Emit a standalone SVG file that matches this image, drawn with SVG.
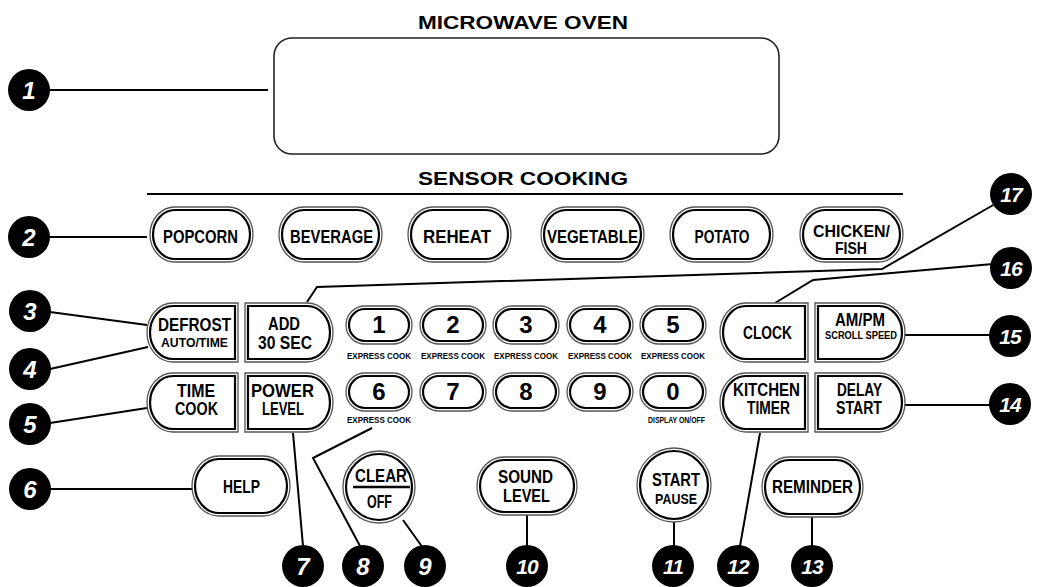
<svg xmlns="http://www.w3.org/2000/svg" width="1037" height="587" viewBox="0 0 1037 587">
<style>
.o{fill:#fff;stroke:#555;stroke-width:1.3}
.i{fill:none;stroke:#000;stroke-width:2.2}
.t{font-family:"Liberation Sans",Arial,sans-serif;font-weight:bold;fill:#000;text-anchor:middle;font-size:18px}
.s{font-size:13.5px}
.x{font-size:9.5px}
.d{font-size:24px}
.ln{stroke:#000;stroke-width:2;fill:none}
.cc{fill:#000}
.cn{font-family:"Liberation Sans",Arial,sans-serif;font-style:italic;font-weight:bold;fill:#fff;text-anchor:middle;font-size:24px}
.cn2{font-size:21px;letter-spacing:-1px}
.h{font-family:"Liberation Sans",Arial,sans-serif;font-weight:bold;fill:#000;text-anchor:middle;font-size:19px}
</style>
<rect width="1037" height="587" fill="#fff"/>
<text class="h" x="523" y="29" textLength="210" lengthAdjust="spacingAndGlyphs">MICROWAVE OVEN</text>
<g id="display"><rect x="274" y="38" width="505" height="116" rx="18" fill="#fff" stroke="#222" stroke-width="1.6"/></g>
<text class="h" x="523" y="185" textLength="210" lengthAdjust="spacingAndGlyphs">SENSOR COOKING</text>
<line x1="147" y1="194" x2="903" y2="194" stroke="#000" stroke-width="2"/>

<g id="connectors">
<line class="ln" x1="50" y1="90" x2="268" y2="90"/>
<line class="ln" x1="50" y1="237" x2="147" y2="237"/>
<line class="ln" x1="50" y1="312" x2="147" y2="325"/>
<line class="ln" x1="50" y1="369" x2="148" y2="347"/>
<line class="ln" x1="50" y1="423" x2="147" y2="408"/>
<line class="ln" x1="50" y1="489" x2="192" y2="489"/>
<line class="ln" x1="303" y1="546" x2="293" y2="433"/>
<polyline class="ln" points="360,546 313,458 372,428"/>
<line class="ln" x1="423" y1="548" x2="403" y2="520"/>
<line class="ln" x1="527" y1="515" x2="527" y2="546"/>
<line class="ln" x1="674" y1="522" x2="674" y2="546"/>
<line class="ln" x1="740" y1="546" x2="760" y2="433"/>
<line class="ln" x1="812" y1="517" x2="812" y2="546"/>
<line class="ln" x1="905" y1="405" x2="990" y2="405"/>
<line class="ln" x1="905" y1="335" x2="990" y2="335"/>
<polyline class="ln" points="775,303 813,280 993,264"/>
<polyline class="ln" points="307,302 317,287 882,269 995,204"/>
</g>

<g id="popcorn"><rect class="o" x="150" y="207" width="103" height="55" rx="25" ry="27.5"/><rect class="i" x="153" y="210" width="97" height="49" rx="22" ry="24.5"/><text class="t" x="200.5" y="243" textLength="75" lengthAdjust="spacingAndGlyphs">POPCORN</text></g>
<g id="beverage"><rect class="o" x="279" y="207" width="103" height="55" rx="25" ry="27.5"/><rect class="i" x="282" y="210" width="97" height="49" rx="22" ry="24.5"/><text class="t" x="331.5" y="243" textLength="83" lengthAdjust="spacingAndGlyphs">BEVERAGE</text></g>
<g id="reheat"><rect class="o" x="408" y="207" width="103" height="55" rx="25" ry="27.5"/><rect class="i" x="411" y="210" width="97" height="49" rx="22" ry="24.5"/><text class="t" x="457" y="243" textLength="68" lengthAdjust="spacingAndGlyphs">REHEAT</text></g>
<g id="vegetable"><rect class="o" x="541" y="207" width="103" height="55" rx="25" ry="27.5"/><rect class="i" x="544" y="210" width="97" height="49" rx="22" ry="24.5"/><text class="t" x="592.5" y="243" textLength="91" lengthAdjust="spacingAndGlyphs">VEGETABLE</text></g>
<g id="potato"><rect class="o" x="670" y="207" width="103" height="55" rx="25" ry="27.5"/><rect class="i" x="673" y="210" width="97" height="49" rx="22" ry="24.5"/><text class="t" x="722" y="243" textLength="55" lengthAdjust="spacingAndGlyphs">POTATO</text></g>
<g id="chicken"><rect class="o" x="800" y="207" width="103" height="55" rx="25" ry="27.5"/><rect class="i" x="803" y="210" width="97" height="49" rx="22" ry="24.5"/><text class="t" x="851.5" y="237" style="font-size:17px" textLength="77" lengthAdjust="spacingAndGlyphs">CHICKEN/</text><text class="t" x="851" y="254" style="font-size:17px" textLength="32" lengthAdjust="spacingAndGlyphs">FISH</text></g>

<g id="defrost"><path class="o" d="M238,303 H173 A26,29.5 0 0 0 173,362 H238 Z"/><path class="i" d="M235,306 H173 A23,26.5 0 0 0 173,359 H235 Z"/><text class="t" x="194.5" y="331" textLength="73" lengthAdjust="spacingAndGlyphs">DEFROST</text><text class="t s" x="194.5" y="347" textLength="67" lengthAdjust="spacingAndGlyphs">AUTO/TIME</text></g>
<g id="add30"><path class="o" d="M245,303 H307 A26,29.5 0 0 1 307,362 H245 Z"/><path class="i" d="M248,306 H307 A23,26.5 0 0 1 307,359 H248 Z"/><text class="t" x="284" y="330" textLength="32" lengthAdjust="spacingAndGlyphs">ADD</text><text class="t" x="285" y="349" textLength="54" lengthAdjust="spacingAndGlyphs">30 SEC</text></g>
<g id="timecook"><path class="o" d="M238,373 H173 A26,29.5 0 0 0 173,432 H238 Z"/><path class="i" d="M235,376 H173 A23,26.5 0 0 0 173,429 H235 Z"/><text class="t" x="196" y="397" textLength="38" lengthAdjust="spacingAndGlyphs">TIME</text><text class="t" x="196.5" y="415" textLength="43" lengthAdjust="spacingAndGlyphs">COOK</text></g>
<g id="powerlevel"><path class="o" d="M245,373 H307 A26,29.5 0 0 1 307,432 H245 Z"/><path class="i" d="M248,376 H307 A23,26.5 0 0 1 307,429 H248 Z"/><text class="t" x="282.5" y="397" textLength="63" lengthAdjust="spacingAndGlyphs">POWER</text><text class="t" x="283" y="415" textLength="42" lengthAdjust="spacingAndGlyphs">LEVEL</text></g>
<g id="clock"><path class="o" d="M808,303 H746 A26,29.5 0 0 0 746,362 H808 Z"/><path class="i" d="M805,306 H746 A23,26.5 0 0 0 746,359 H805 Z"/><text class="t" x="767.5" y="339" textLength="49" lengthAdjust="spacingAndGlyphs">CLOCK</text></g>
<g id="ampm"><path class="o" d="M815,303 H879 A26,29.5 0 0 1 879,362 H815 Z"/><path class="i" d="M818,306 H879 A23,26.5 0 0 1 879,359 H818 Z"/><text class="t" x="860" y="326" textLength="50" lengthAdjust="spacingAndGlyphs">AM/PM</text><text class="t" x="861" y="339" style="font-size:11px" textLength="72" lengthAdjust="spacingAndGlyphs">SCROLL SPEED</text></g>
<g id="kitchentimer"><path class="o" d="M808,373 H746 A26,29.5 0 0 0 746,432 H808 Z"/><path class="i" d="M805,376 H746 A23,26.5 0 0 0 746,429 H805 Z"/><text class="t" x="766.5" y="396" textLength="67" lengthAdjust="spacingAndGlyphs">KITCHEN</text><text class="t" x="768.5" y="414" textLength="43" lengthAdjust="spacingAndGlyphs">TIMER</text></g>
<g id="delaystart"><path class="o" d="M815,373 H879 A26,29.5 0 0 1 879,432 H815 Z"/><path class="i" d="M818,376 H879 A23,26.5 0 0 1 879,429 H818 Z"/><text class="t" x="859.5" y="396" textLength="45" lengthAdjust="spacingAndGlyphs">DELAY</text><text class="t" x="859" y="414" textLength="46" lengthAdjust="spacingAndGlyphs">START</text></g>

<g id="key1"><rect class="o" x="346" y="306" width="66" height="38" rx="19"/><rect class="i" x="349" y="309" width="60" height="32" rx="16"/><text class="t d" x="379" y="333">1</text><text class="t x" x="379" y="359" textLength="64" lengthAdjust="spacingAndGlyphs">EXPRESS COOK</text></g>
<g id="key2"><rect class="o" x="420" y="306" width="66" height="38" rx="19"/><rect class="i" x="423" y="309" width="60" height="32" rx="16"/><text class="t d" x="453" y="333">2</text><text class="t x" x="453" y="359" textLength="64" lengthAdjust="spacingAndGlyphs">EXPRESS COOK</text></g>
<g id="key3"><rect class="o" x="493" y="306" width="66" height="38" rx="19"/><rect class="i" x="496" y="309" width="60" height="32" rx="16"/><text class="t d" x="526" y="333">3</text><text class="t x" x="526" y="359" textLength="64" lengthAdjust="spacingAndGlyphs">EXPRESS COOK</text></g>
<g id="key4"><rect class="o" x="567" y="306" width="66" height="38" rx="19"/><rect class="i" x="570" y="309" width="60" height="32" rx="16"/><text class="t d" x="600" y="333">4</text><text class="t x" x="600" y="359" textLength="64" lengthAdjust="spacingAndGlyphs">EXPRESS COOK</text></g>
<g id="key5"><rect class="o" x="640" y="306" width="66" height="38" rx="19"/><rect class="i" x="643" y="309" width="60" height="32" rx="16"/><text class="t d" x="673" y="333">5</text><text class="t x" x="673" y="359" textLength="64" lengthAdjust="spacingAndGlyphs">EXPRESS COOK</text></g>
<g id="key6"><rect class="o" x="346" y="373" width="66" height="38" rx="19"/><rect class="i" x="349" y="376" width="60" height="32" rx="16"/><text class="t d" x="379" y="400">6</text><text class="t x" x="379" y="423" textLength="64" lengthAdjust="spacingAndGlyphs">EXPRESS COOK</text></g>
<g id="key7"><rect class="o" x="420" y="373" width="66" height="38" rx="19"/><rect class="i" x="423" y="376" width="60" height="32" rx="16"/><text class="t d" x="453" y="400">7</text></g>
<g id="key8"><rect class="o" x="493" y="373" width="66" height="38" rx="19"/><rect class="i" x="496" y="376" width="60" height="32" rx="16"/><text class="t d" x="526" y="400">8</text></g>
<g id="key9"><rect class="o" x="567" y="373" width="66" height="38" rx="19"/><rect class="i" x="570" y="376" width="60" height="32" rx="16"/><text class="t d" x="600" y="400">9</text></g>
<g id="key0"><rect class="o" x="640" y="373" width="66" height="38" rx="19"/><rect class="i" x="643" y="376" width="60" height="32" rx="16"/><text class="t d" x="673" y="400">0</text><text class="t x" x="676.5" y="423" textLength="57" lengthAdjust="spacingAndGlyphs">DISPLAY ON/OFF</text></g>

<g id="help"><rect class="o" x="192" y="456" width="98" height="60" rx="27" ry="30"/><rect class="i" x="195" y="459" width="92" height="54" rx="24" ry="27"/><text class="t" x="241.5" y="493" textLength="37" lengthAdjust="spacingAndGlyphs">HELP</text></g>
<g id="clearoff"><circle class="o" cx="379" cy="487" r="36"/><circle class="i" cx="379" cy="487" r="33"/><text class="t" x="381" y="482" textLength="52" lengthAdjust="spacingAndGlyphs">CLEAR</text><line x1="353" y1="487" x2="410" y2="487" stroke="#000" stroke-width="2.5"/><text class="t" x="379.5" y="508" textLength="25" lengthAdjust="spacingAndGlyphs">OFF</text></g>
<g id="soundlevel"><rect class="o" x="477" y="457" width="100" height="58" rx="27" ry="29"/><rect class="i" x="480" y="460" width="94" height="52" rx="24" ry="26"/><text class="t" x="525.5" y="483" textLength="55" lengthAdjust="spacingAndGlyphs">SOUND</text><text class="t" x="526.5" y="502" textLength="47" lengthAdjust="spacingAndGlyphs">LEVEL</text></g>
<g id="startpause"><circle class="o" cx="674" cy="485" r="37"/><circle class="i" cx="674" cy="485" r="34"/><text class="t" x="676" y="486" textLength="48" lengthAdjust="spacingAndGlyphs">START</text><text class="t" x="676" y="504" style="font-size:14px" textLength="42" lengthAdjust="spacingAndGlyphs">PAUSE</text></g>
<g id="reminder"><rect class="o" x="762" y="457" width="101" height="60" rx="27" ry="30"/><rect class="i" x="765" y="460" width="95" height="54" rx="24" ry="27"/><text class="t" x="812.5" y="493" textLength="81" lengthAdjust="spacingAndGlyphs">REMINDER</text></g>

<g id="c1"><circle class="cc" cx="29" cy="90" r="21"/><text class="cn" x="29" y="99">1</text></g>
<g id="c2"><circle class="cc" cx="29" cy="237" r="21"/><text class="cn" x="29" y="246">2</text></g>
<g id="c3"><circle class="cc" cx="30" cy="311" r="21"/><text class="cn" x="30" y="320">3</text></g>
<g id="c4"><circle class="cc" cx="30" cy="369" r="21"/><text class="cn" x="30" y="378">4</text></g>
<g id="c5"><circle class="cc" cx="30" cy="424" r="21"/><text class="cn" x="30" y="433">5</text></g>
<g id="c6"><circle class="cc" cx="30" cy="489" r="21"/><text class="cn" x="30" y="498">6</text></g>
<g id="c7"><circle class="cc" cx="303" cy="566" r="21"/><text class="cn" x="303" y="575">7</text></g>
<g id="c8"><circle class="cc" cx="363" cy="566" r="21"/><text class="cn" x="363" y="575">8</text></g>
<g id="c9"><circle class="cc" cx="425" cy="566" r="21"/><text class="cn" x="425" y="575">9</text></g>
<g id="c10"><circle class="cc" cx="527" cy="566" r="21"/><text class="cn cn2" x="527" y="574">10</text></g>
<g id="c11"><circle class="cc" cx="673" cy="566" r="21"/><text class="cn cn2" x="673" y="574">11</text></g>
<g id="c12"><circle class="cc" cx="738" cy="566" r="21"/><text class="cn cn2" x="738" y="574">12</text></g>
<g id="c13"><circle class="cc" cx="812" cy="566" r="21"/><text class="cn cn2" x="812" y="574">13</text></g>
<g id="c14"><circle class="cc" cx="1010" cy="404" r="21"/><text class="cn cn2" x="1010" y="412">14</text></g>
<g id="c15"><circle class="cc" cx="1010" cy="336" r="21"/><text class="cn cn2" x="1010" y="344">15</text></g>
<g id="c16"><circle class="cc" cx="1011" cy="268" r="21"/><text class="cn cn2" x="1011" y="276">16</text></g>
<g id="c17"><circle class="cc" cx="1011" cy="194" r="21"/><text class="cn cn2" x="1011" y="202">17</text></g>
</svg>
